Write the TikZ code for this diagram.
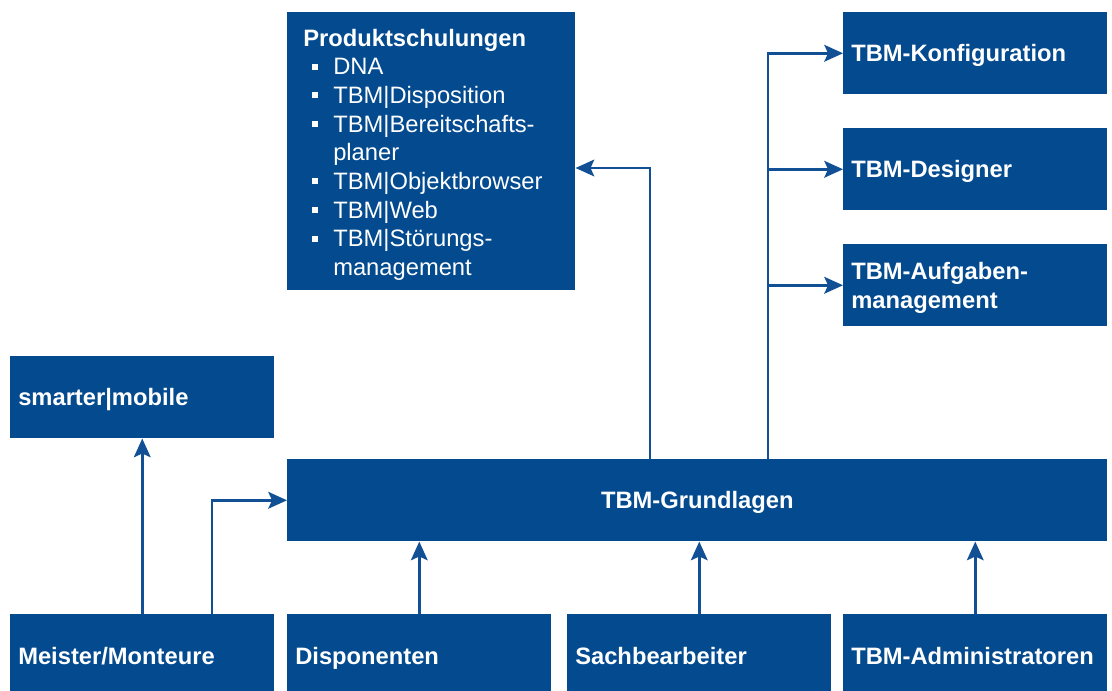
\documentclass[tikz,border=0pt]{standalone}
\usepackage{fontspec}
\setmainfont{Liberation Sans}
\usetikzlibrary{arrows.meta}
\definecolor{tbm}{RGB}{3,74,143}
\definecolor{tbmline}{RGB}{18,80,150}
\newcommand\bitem[1]{\hspace*{6.4pt}\rule[3.9pt]{4.5pt}{4.5pt}\hspace*{11.6pt}#1}
\newcommand\bcont[1]{\hspace*{22.5pt}#1}
\begin{document}
\begin{tikzpicture}[x=0.75pt,y=-0.75pt,
  box/.style={fill=tbm, text=white, anchor=north west, inner ysep=0pt,
    font=\bfseries\fontsize{17.8}{21.5}\selectfont},
  lbox/.style={box, inner xsep=6pt, align=left, text width=186pt,
    minimum width=198pt, minimum height=61.5pt},
  one/.style={text height=12.75pt, text depth=0pt},
  arr/.style={draw=tbmline, line width=2.1pt,
    -{Stealth[length=14pt,width=12.5pt,inset=2.8pt]}}]
\useasboundingbox (0,0) rectangle (1112,690);
\clip (0,0) rectangle (1112,690);
% top boxes
\node[box, minimum width=216pt, minimum height=208.5pt] (ps) at (287,12) {};
\node[box, anchor=center, fill=none, inner xsep=12pt, align=left, text width=192pt]
  (pst) at ([yshift=-2.6pt]ps.center) {Produktschulungen\\
  \mdseries\bitem{DNA}\\
  \bitem{TBM|Disposition}\\
  \bitem{TBM|Bereitschafts-}\\
  \bcont{planer}\\
  \bitem{TBM|Objektbrowser}\\
  \bitem{TBM|Web}\\
  \bitem{TBM|Störungs-}\\
  \bcont{management}};
\node[lbox, one] (conf) at (843,12) {TBM-Konfiguration};
\node[lbox, one] (des) at (843,128) {TBM-Designer};
\node[lbox, minimum height=61.5pt] (auf) at (843,244) {};
\node[box, anchor=west, fill=none, inner xsep=6pt, align=left]
  (auft) at ([yshift=-1.8pt]auf.west) {TBM-Aufgaben-\\management};
\node[lbox, one] (sm) at (10,356) {smarter|mobile};
\node[box, one, align=center, minimum width=615pt, minimum height=61.5pt] (gl) at (287,459) {TBM-Grundlagen};
% bottom boxes
\node[lbox, one, minimum height=63pt] (mm) at (10,614) {Meister/Monteure};
\node[lbox, one, minimum height=63pt, minimum width=197.25pt] (disp) at (287,614) {Disponenten};
\node[lbox, one, minimum height=63pt, minimum width=197.25pt] (sach) at (567,614) {Sachbearbeiter};
\node[lbox, one, minimum height=63pt] (adm) at (843,614) {TBM-Administratoren};
% helper coordinates
\coordinate (mx) at (212,0);
\coordinate (px) at (650,0);
\coordinate (py) at (0,168);
\coordinate (tx) at (768,0);
% connectors
\draw[arr] (mm.north) -- (sm.south);
\draw[arr] (mm.north -| mx) |- (gl.west);
\draw[arr] (disp.north) -- (disp.north |- gl.south);
\draw[arr] (sach.north) -- (sach.north |- gl.south);
\draw[arr] (adm.north) -- (adm.north |- gl.south);
\draw[arr] (gl.north -| px) |- (ps.east |- py);
\draw[arr] (gl.north -| tx) |- (conf.west);
\draw[arr] (tx |- des.west) -- (des.west);
\draw[arr] (tx |- auf.west) -- (auf.west);
\end{tikzpicture}
\end{document}
